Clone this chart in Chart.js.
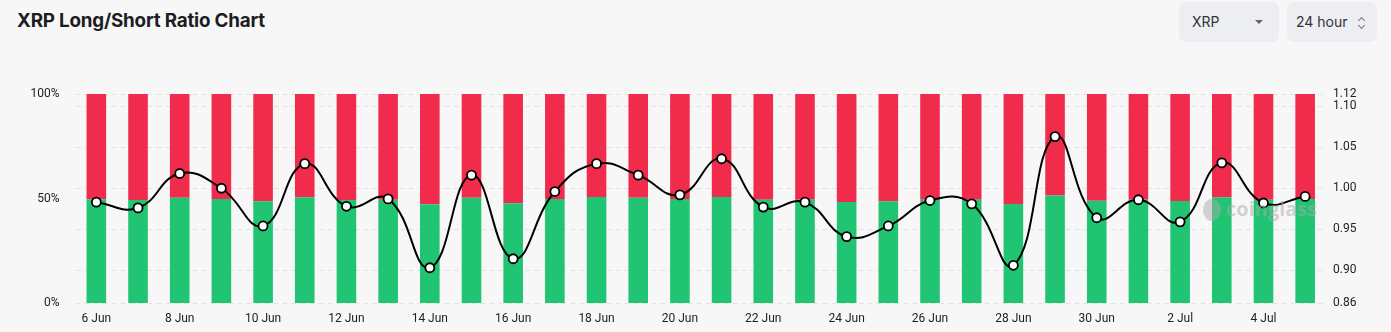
<!DOCTYPE html>
<html>
<head>
<meta charset="utf-8">
<script src="https://cdn.jsdelivr.net/npm/chart.js@4/dist/chart.umd.min.js"></script>
<style>
  html, body { margin: 0; padding: 0; background: #f7f7f7; width: 1391px; height: 332px; overflow: hidden; }
  body { position: relative; font-family: Inter, "Noto Sans", sans-serif; }
  #title { position: absolute; left: 17px; top: 9px; font-size: 18.8px; font-weight: 700; color: #1d1d1f; letter-spacing: -0.2px; }
  .sel { position: absolute; top: 2px; height: 40px; background: #eceef2; border-radius: 7px; font-size: 14px; color: #333; line-height: 40px; }
  #coin { left: 1179px; width: 100px; }
  #coin span { position: absolute; left: 13px; }
  #coin i { position: absolute; left: 76px; top: 18px; width: 0; height: 0; border-left: 4px solid transparent; border-right: 4px solid transparent; border-top: 4px solid #666; }
  #range { left: 1287px; width: 90px; }
  #range span { position: absolute; left: 9px; }
  #range .up, #range .dn { position: absolute; left: 72px; width: 4px; height: 4px; border-left: 1.3px solid #777; border-top: 1.3px solid #777; }
  #range .up { top: 16px; transform: rotate(45deg); }
  #range .dn { top: 21px; transform: rotate(225deg); }
  #wrap { position: absolute; left: 0; top: 60px; width: 1391px; height: 272px; }
</style>
</head>
<body>
<div id="title">XRP Long/Short Ratio Chart</div>
<div class="sel" id="coin"><span>XRP</span><i></i></div>
<div class="sel" id="range"><span>24 hour</span><i class="up"></i><i class="dn"></i></div>
<div id="wrap"><canvas id="chart"></canvas></div>
<script>
let days = ["6 Jun","7 Jun","8 Jun","9 Jun","10 Jun","11 Jun","12 Jun","13 Jun","14 Jun","15 Jun",
  "16 Jun","17 Jun","18 Jun","19 Jun","20 Jun","21 Jun","22 Jun","23 Jun","24 Jun","25 Jun",
  "26 Jun","27 Jun","28 Jun","29 Jun","30 Jun","1 Jul","2 Jul","3 Jul","4 Jul","5 Jul"];

// long / short account share (%)
let longPct = [49.6,49.3,50.4,49.8,48.7,50.6,49.3,49.4,47.3,50.4,
  47.7,49.8,50.7,50.4,49.8,50.7,49.4,49.4,48.3,48.7,
  49.4,49.4,47.4,51.4,48.9,49.4,48.8,50.6,49.4,49.8];
let shortPct = [50.4,50.7,49.6,50.2,51.3,49.4,50.7,50.6,52.7,49.6,
  52.3,50.2,49.3,49.6,50.2,49.3,50.6,50.6,51.7,51.3,
  50.6,50.6,52.6,48.6,51.1,50.6,51.2,49.4,50.6,50.2];

// long/short ratio
let ratio = [0.983,0.976,1.018,1.000,0.954,1.030,0.978,0.987,0.903,1.016,
  0.914,0.996,1.030,1.016,0.992,1.036,0.977,0.983,0.941,0.954,
  0.985,0.981,0.906,1.063,0.964,0.986,0.959,1.031,0.982,0.990];

let pctTicks = [0, 50, 100];
let ratioTicks = [0.86, 0.90, 0.95, 1.00, 1.05, 1.10, 1.115];

const FONT = { family: "Roboto", size: 12 };

const watermark = {
  id: "watermark",
  afterDatasetsDraw(chart) {
    const ctx = chart.ctx;
    ctx.save();
    ctx.globalAlpha = 0.5;
    ctx.fillStyle = "#a9a9a9";
    // rough logo blob
    ctx.beginPath();
    ctx.ellipse(1212, 150, 9, 11, 0, 0, Math.PI * 2);
    ctx.fill();
    ctx.font = "bold 20px 'Open Sans', sans-serif";
    ctx.textBaseline = "middle";
    ctx.fillText("coinglass", 1226, 150);
    ctx.restore();
  }
};

new Chart(document.getElementById("chart"), {
  type: "bar",
  data: {
    labels: days,
    datasets: [
      {
        type: "line",
        label: "Ratio",
        data: ratio,
        yAxisID: "y1",
        order: 0,
        borderColor: "#000",
        borderWidth: 2,
        tension: 0.45,
        pointRadius: 4.5,
        pointBorderWidth: 1.8,
        pointBackgroundColor: "#fff",
        pointBorderColor: "#000"
      },
      {
        label: "Long",
        data: longPct,
        backgroundColor: "#20c472",
        stack: "s",
        order: 1,
        barPercentage: 0.47,
        categoryPercentage: 1
      },
      {
        label: "Short",
        data: shortPct,
        backgroundColor: "#f12b4b",
        stack: "s",
        order: 1,
        barPercentage: 0.47,
        categoryPercentage: 1
      }
    ]
  },
  options: {
    responsive: true,
    maintainAspectRatio: false,
    animation: false,
    layout: { padding: { top: 34, left: 0, right: 0, bottom: 0 } },
    plugins: { legend: { display: false }, tooltip: { enabled: false } },
    scales: {
      x: {
        stacked: true,
        grid: { display: false },
        border: { display: false },
        ticks: {
          font: FONT, color: "#222", padding: 1, autoSkip: false, maxRotation: 0,
          callback: function(v, i) { return i % 2 === 0 ? this.getLabelForValue(v) : ""; }
        },
        afterFit: s => { s.height = 29; }
      },
      y: {
        stacked: true,
        min: 0, max: 100,
        position: "left",
        grid: { display: false },
        border: { display: false },
        afterBuildTicks: s => { s.ticks = pctTicks.map(v => ({ value: v })); },
        ticks: { font: FONT, color: "#222", padding: 8, callback: v => v + "%" },
        afterFit: s => { s.width = 75.5; }
      },
      y1: {
        min: 0.86, max: 1.115,
        position: "right",
        grid: { color: "#e2e2e2", drawTicks: false },
        border: { display: false, dash: [5, 4] },
        afterBuildTicks: s => { s.ticks = ratioTicks.map(v => ({ value: v })); },
        ticks: { font: FONT, color: "#222", padding: 7, callback: v => (Math.round(v * 100) / 100).toFixed(2) },
        afterFit: s => { s.width = 65; }
      }
    }
  },
  plugins: [watermark]
});
</script>
</body>
</html>
